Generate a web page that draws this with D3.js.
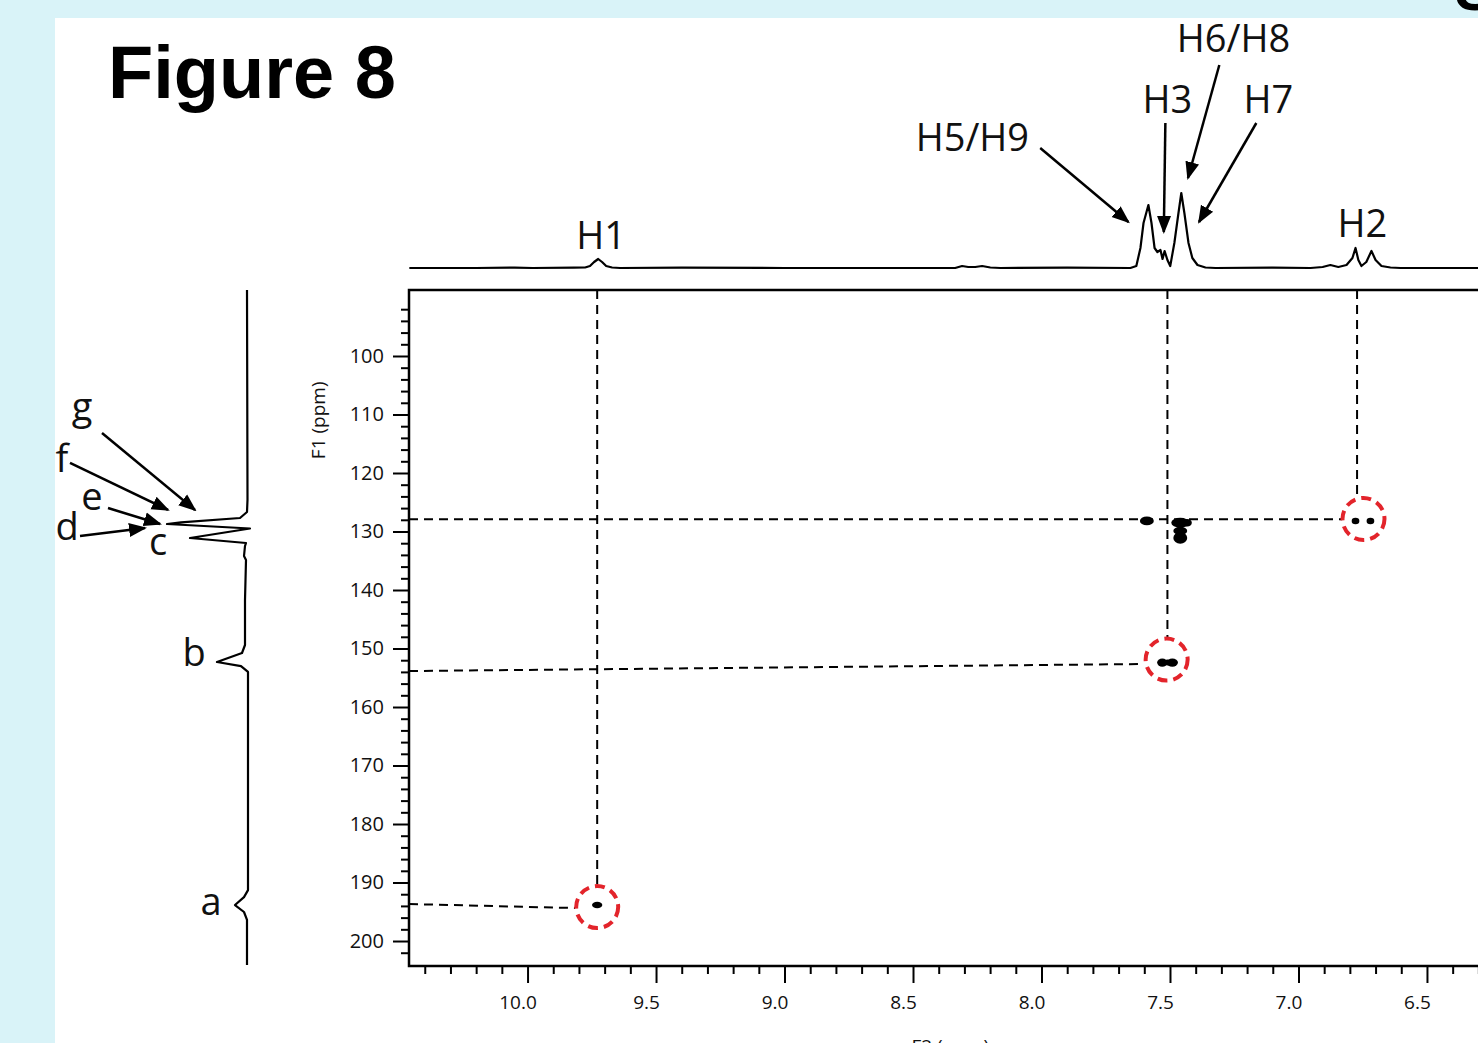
<!DOCTYPE html>
<html>
<head>
<meta charset="utf-8">
<script src="https://cdn.jsdelivr.net/npm/d3@7"></script>
<style>
  body { margin: 0; background: #d9f3f8; }
  svg { display: block; }
</style>
</head>
<body>
<svg id="fig" width="1478" height="1043"></svg>
<script>
// ---------------- data ----------------
// 1H projection along F2: [ppm, intensity]
const protonSpectrum = [
  [10.46, 0], [10.2, 0], [10.05, 0.4], [9.98, 0], [9.82, 0.3], [9.776, 0.5], [9.757, 2], [9.741, 6],
  [9.725, 9], [9.710, 6], [9.694, 2], [9.671, 0.5], [9.640, 0], [9.4, 0.3], [9.0, 0],
  [8.60, 0], [8.336, 0], [8.309, 2], [8.285, 1], [8.258, 1], [8.231, 2], [8.199, 0.5], [8.160, 0],
  [7.90, 0.3], [7.654, 0], [7.631, 2], [7.615, 20], [7.603, 45], [7.584, 63], [7.572, 45],
  [7.560, 20], [7.549, 16], [7.537, 18], [7.529, 9], [7.521, 17], [7.510, 8], [7.499, 2],
  [7.483, 25], [7.467, 55], [7.456, 75], [7.444, 55], [7.428, 25], [7.413, 10], [7.393, 3],
  [7.362, 0.5], [7.323, 0], [7.10, 0.3], [6.953, 0], [6.906, 1], [6.876, 3], [6.845, 1],
  [6.813, 3], [6.790, 10], [6.778, 20], [6.767, 8], [6.755, 2], [6.736, 6], [6.716, 17],
  [6.700, 8], [6.677, 2], [6.642, 0.5], [6.603, 0], [6.30, 0]
];

// 13C projection along F1: [intensity, ppm]
const carbonSpectrum = [
  [0, 88.72], [-0.5, 124.6], [0, 126.67], [7, 127.69], [66, 128.45], [80, 128.72],
  [-3, 129.49], [57, 131.11], [1, 131.97], [2, 132.48], [3, 134.19], [1, 134.87],
  [2, 141.7], [2, 149.4], [5, 150.77], [30, 152.31], [6, 153.0], [-1, 154.0],
  [-1, 191.3], [3, 192.5], [12, 193.85], [3, 195.04], [0, 196.4], [0, 204.1]
];

const f2Ticks = [10.0, 9.5, 9.0, 8.5, 8.0, 7.5, 7.0, 6.5];
const f1Ticks = [100, 110, 120, 130, 140, 150, 160, 170, 180, 190, 200];

// HMBC cross peaks: F2 ppm, F1 ppm, half-widths in ppm
const crossF2 = [9.729, 7.590, 7.460, 7.460, 7.460, 7.433, 7.530, 7.510, 7.491, 6.778, 6.720];
const crossF1 = [193.85, 128.2, 128.5, 129.9, 131.1, 128.5, 152.4, 152.4, 152.4, 128.2, 128.2];
const crossW2 = [0.020, 0.027, 0.035, 0.027, 0.027, 0.018, 0.020, 0.012, 0.022, 0.015, 0.015];
const crossW1 = [0.55, 0.75, 0.85, 0.70, 1.00, 0.65, 0.70, 0.50, 0.70, 0.55, 0.55];

// highlighted correlations (circled)
const circleF2 = [9.729, 7.513, 6.747];
const circleF1 = [194.2, 151.9, 127.86];

// dashed guide lines: [[f2, f1], [f2, f1]]
const guideLines = [
  [[9.729, 88.72], [9.729, 190.77]],
  [[10.4613, 193.68], [9.815, 194.36]],
  [[7.510, 88.72], [7.510, 148.55]],
  [[10.4613, 153.85], [7.603, 152.65]],
  [[6.772, 88.72], [6.772, 124.6]],
  [[10.4613, 127.9], [6.830, 127.9]]
];

// proton assignment labels: text, ppm, intensity (label baseline)
const hLabels = [
  ["H1", 9.714, 19], ["H5/H9", 8.269, 117], ["H3", 7.510, 155],
  ["H6/H8", 7.253, 216], ["H7", 7.117, 155], ["H2", 6.751, 31]
];
// proton arrows: [ppm, intensity] -> [ppm, intensity]
const hArrows = [
  [[8.005, 120], [7.662, 46]],
  [[7.518, 145], [7.524, 36]],
  [[7.308, 203], [7.430, 90]],
  [[7.164, 145], [7.387, 46]]
];

// carbon labels: text, intensity, ppm (label baseline)
const cLabels = [
  ["g", 165, 110.94], ["f", 185, 119.83], ["e", 155, 126.32], ["d", 180, 131.45],
  ["c", 89, 134.02], ["b", 53, 152.99], ["a", 36, 195.56]
];
// carbon arrows: [intensity, ppm] -> [intensity, ppm]
const cArrows = [
  [[145, 113.16], [52, 126.32]],
  [[177, 118.29], [79, 126.32]],
  [[139, 125.98], [87, 128.72]],
  [[167, 130.77], [102, 129.40]]
];

// ---------------- drawing ----------------
const svg = d3.select("#fig");
const FONT = "'Open Sans', 'DejaVu Sans', sans-serif";

// page panel
svg.append("rect").attr("x", 0).attr("y", 0).attr("width", 1478).attr("height", 1043).attr("fill", "#d9f3f8");
svg.append("rect").attr("x", 55).attr("y", 18).attr("width", 1423).attr("height", 1025).attr("fill", "#ffffff");
svg.append("text").attr("x", 1455).attr("y", 10)
  .attr("font-family", "'Liberation Sans', Arial, sans-serif").attr("font-weight", "bold")
  .attr("font-size", 60).attr("fill", "#000").text("S");

svg.append("text").attr("x", 108).attr("y", 98)
  .attr("font-family", "'Liberation Sans', Arial, sans-serif").attr("font-weight", "bold")
  .attr("font-size", 74).attr("fill", "#000").text("Figure 8");

// scales
const x = d3.scaleLinear().domain([10.4613, 6.3014]).range([409, 1478]);
const y = d3.scaleLinear().domain([88.72, 204.27]).range([290, 966]);
const yTop = d3.scaleLinear().domain([0, 100]).range([268, 168]);
const xLeft = d3.scaleLinear().domain([0, 100]).range([247, 147]);

// arrow marker
const defs = svg.append("defs");
defs.append("marker").attr("id", "head")
  .attr("viewBox", "0 -8 18 16").attr("refX", 16).attr("refY", 0)
  .attr("markerWidth", 18).attr("markerHeight", 16)
  .attr("markerUnits", "userSpaceOnUse").attr("orient", "auto")
  .append("path").attr("d", "M0,-7L18,0L0,7Z").attr("fill", "#000");

// axes
const styleAxis = g => {
  g.select(".domain").remove();
  g.selectAll(".tick line").attr("stroke", "#000").attr("stroke-width", 2);
  g.selectAll(".tick text").attr("font-family", FONT).attr("font-size", 20).attr("fill", "#111");
};

const minorF2 = d3.range(63, 105).map(v => v / 10).filter(v => Math.abs(v * 2 - Math.round(v * 2)) > 1e-6);
svg.append("g").attr("transform", `translate(0,${y.range()[1]})`)
  .call(d3.axisBottom(x).tickValues(minorF2).tickSize(8).tickFormat(""))
  .call(styleAxis);
svg.append("g").attr("transform", `translate(0,${y.range()[1]})`)
  .call(d3.axisBottom(x).tickValues(f2Ticks).tickSize(17).tickPadding(13).tickFormat(d3.format(".1f")))
  .call(styleAxis)
  .call(g => g.selectAll(".tick text").attr("dx", -10).attr("font-size", 19));

const minorF1 = d3.range(90, 204, 2).filter(v => v % 10 !== 0);
svg.append("g").attr("transform", `translate(${x.range()[0]},0)`)
  .call(d3.axisLeft(y).tickValues(minorF1).tickSize(8).tickFormat(""))
  .call(styleAxis);
svg.append("g").attr("transform", `translate(${x.range()[0]},0)`)
  .call(d3.axisLeft(y).tickValues(f1Ticks).tickSize(16).tickPadding(9))
  .call(styleAxis);

// frame
const [fx0, fx1] = x.range();
const [fy0, fy1] = y.range();
svg.append("path")
  .attr("d", `M${fx1},${fy0}H${fx0}V${fy1}H${fx1}`)
  .attr("fill", "none").attr("stroke", "#000").attr("stroke-width", 2.5);

// axis titles
svg.append("text")
  .attr("transform", `translate(325,${y(111)}) rotate(-90)`)
  .attr("text-anchor", "middle").attr("font-family", FONT).attr("font-size", 19).attr("fill", "#111")
  .text("F1 (ppm)");
svg.append("text")
  .attr("x", x(8.355)).attr("y", 1053)
  .attr("text-anchor", "middle").attr("font-family", FONT).attr("font-size", 19).attr("fill", "#111")
  .text("F2 (ppm)");

// guide lines
svg.append("g").selectAll("line").data(guideLines).join("line")
  .attr("x1", d => x(d[0][0])).attr("y1", d => y(d[0][1]))
  .attr("x2", d => x(d[1][0])).attr("y2", d => y(d[1][1]))
  .attr("stroke", "#000").attr("stroke-width", 2).attr("stroke-dasharray", "9,6");

// cross peaks
svg.append("g").selectAll("ellipse").data(d3.range(crossF2.length)).join("ellipse")
  .attr("cx", i => x(crossF2[i])).attr("cy", i => y(crossF1[i]))
  .attr("rx", i => Math.abs(x(crossF2[i] + crossW2[i]) - x(crossF2[i])))
  .attr("ry", i => Math.abs(y(crossF1[i] + crossW1[i]) - y(crossF1[i])))
  .attr("fill", "#000");

// red dashed circles
svg.append("g").selectAll("circle").data(d3.range(circleF2.length)).join("circle")
  .attr("cx", i => x(circleF2[i])).attr("cy", i => y(circleF1[i])).attr("r", 21)
  .attr("fill", "none").attr("stroke", "#e3242b").attr("stroke-width", 4)
  .attr("stroke-dasharray", "10,6");

// 1H projection
svg.append("path").datum(protonSpectrum)
  .attr("d", d3.line().x(d => x(d[0])).y(d => yTop(d[1])))
  .attr("fill", "none").attr("stroke", "#000").attr("stroke-width", 2.2).attr("stroke-linejoin", "round");

// 13C projection
svg.append("path").datum(carbonSpectrum)
  .attr("d", d3.line().x(d => xLeft(d[0])).y(d => y(d[1])))
  .attr("fill", "none").attr("stroke", "#000").attr("stroke-width", 2.2).attr("stroke-linejoin", "round");

// proton labels + arrows
svg.append("g").selectAll("text").data(hLabels).join("text")
  .attr("x", d => x(d[1])).attr("y", d => yTop(d[2]))
  .attr("text-anchor", "middle").attr("font-family", FONT).attr("font-size", 38).attr("fill", "#111")
  .text(d => d[0]);
svg.append("g").selectAll("line").data(hArrows).join("line")
  .attr("x1", d => x(d[0][0])).attr("y1", d => yTop(d[0][1]))
  .attr("x2", d => x(d[1][0])).attr("y2", d => yTop(d[1][1]))
  .attr("stroke", "#000").attr("stroke-width", 2.5).attr("marker-end", "url(#head)");

// carbon labels + arrows
svg.append("g").selectAll("text").data(cLabels).join("text")
  .attr("x", d => xLeft(d[1])).attr("y", d => y(d[2]))
  .attr("text-anchor", "middle").attr("font-family", FONT).attr("font-size", 38).attr("fill", "#111")
  .text(d => d[0]);
svg.append("g").selectAll("line").data(cArrows).join("line")
  .attr("x1", d => xLeft(d[0][0])).attr("y1", d => y(d[0][1]))
  .attr("x2", d => xLeft(d[1][0])).attr("y2", d => y(d[1][1]))
  .attr("stroke", "#000").attr("stroke-width", 2.5).attr("marker-end", "url(#head)");
</script>
</body>
</html>
